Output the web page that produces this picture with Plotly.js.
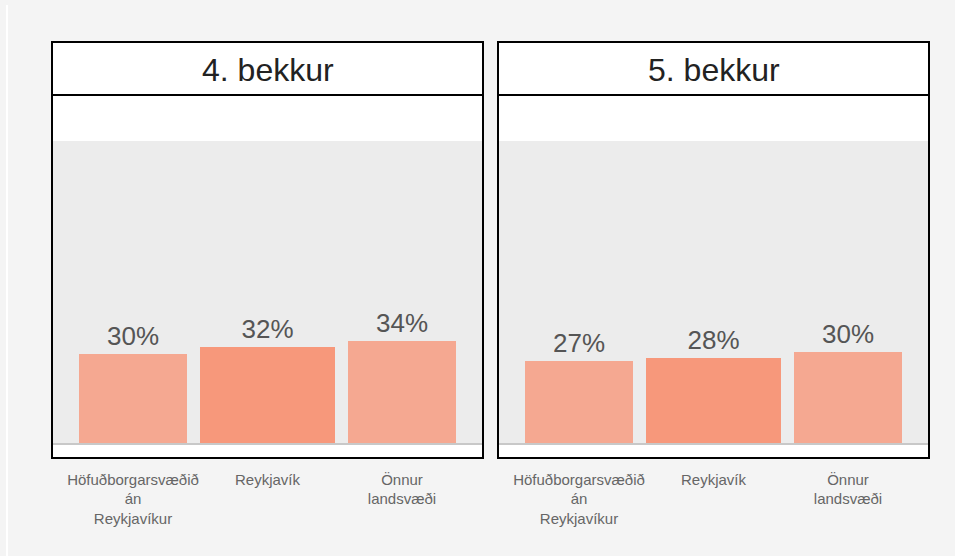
<!DOCTYPE html>
<html>
<head>
<meta charset="utf-8">
<script src="https://cdn.plot.ly/plotly-3.0.1.min.js"></script>
<style>
  html, body { margin: 0; padding: 0; background: #f4f4f4; }
  #chart { width: 955px; height: 556px; }
</style>
</head>
<body>
<div id="chart"></div>
<script>
// data
const regions = ['Höfuðborgarsvæðið<br>án<br>Reykjavíkur', 'Reykjavík', 'Önnur<br>landsvæði'];
const grade4 = [29.6, 32.1, 34.0];
const grade5 = [27.4, 28.4, 30.4];
const panelTitles = ['4. bekkur', '5. bekkur'];

const W = 955, H = 556;
const px = x => x / W;
const py = y => 1 - y / H;

const barColors = ['#f5a891', '#f7987b', '#f5a891'];
const barWidths = [0.8, 1.0, 0.8];

function barTrace(vals, xa, ya) {
  return {
    type: 'bar',
    x: regions,
    y: vals,
    xaxis: xa,
    yaxis: ya,
    width: barWidths,
    marker: {color: barColors},
    texttemplate: '%{y:.0f}%',
    textposition: 'outside',
    textfont: {size: 26, color: '#555555'},
    cliponaxis: false,
    hoverinfo: 'skip'
  };
}

const data = [barTrace(grade4, 'x', 'y'), barTrace(grade5, 'x2', 'y2')];

function xAxis(d0, d1, anchor) {
  return {
    domain: [px(d0), px(d1)],
    anchor: anchor,
    range: [-0.595, 2.595],
    showline: true, linecolor: '#c8c8c8', linewidth: 1.5,
    showgrid: false, zeroline: false, ticks: '',
    ticklabelstandoff: 22,
    tickfont: {size: 15, color: '#666666'},
    fixedrange: true
  };
}
function yAxis(anchor) {
  return {
    domain: [py(443), py(141)],
    anchor: anchor,
    range: [0, 100.5],
    showgrid: false, zeroline: false, showticklabels: false, showline: false,
    fixedrange: true
  };
}

// panel boxes: [left, right]
const panels = [[52, 483], [498, 929]];
const shapes = [
  {type: 'line', xref: 'paper', yref: 'paper', x0: px(7), x1: px(7), y0: py(5), y1: 0,
   line: {color: '#ffffff', width: 2}}
];
const annotations = [];
panels.forEach((p, i) => {
  shapes.push({type: 'rect', xref: 'paper', yref: 'paper', layer: 'below',
    x0: px(p[0]), x1: px(p[1]), y0: py(458), y1: py(42),
    fillcolor: '#ffffff', line: {color: '#000000', width: 2}});
  shapes.push({type: 'rect', xref: 'paper', yref: 'paper', layer: 'below',
    x0: px(p[0] + 1), x1: px(p[1] - 1), y0: py(443), y1: py(141),
    fillcolor: '#ececec', line: {width: 0}});
  shapes.push({type: 'line', xref: 'paper', yref: 'paper',
    x0: px(p[0]), x1: px(p[1]), y0: py(95), y1: py(95),
    line: {color: '#000000', width: 2}});
  annotations.push({xref: 'paper', yref: 'paper', x: px((p[0] + p[1]) / 2), y: py(70),
    xanchor: 'center', yanchor: 'middle', showarrow: false,
    text: panelTitles[i], font: {size: 32, color: '#222222'}});
});

const layout = {
  width: W, height: H,
  margin: {l: 0, r: 0, t: 0, b: 0},
  paper_bgcolor: '#f4f4f4',
  plot_bgcolor: '#ececec',
  font: {family: 'Liberation Sans, Arial, sans-serif'},
  showlegend: false,
  bargap: 0,
  xaxis: xAxis(53, 482, 'y'),
  yaxis: yAxis('x'),
  xaxis2: xAxis(499, 928, 'y2'),
  yaxis2: yAxis('x2'),
  shapes: shapes,
  annotations: annotations
};

Plotly.newPlot('chart', data, layout, {displayModeBar: false, staticPlot: true});
</script>
</body>
</html>
